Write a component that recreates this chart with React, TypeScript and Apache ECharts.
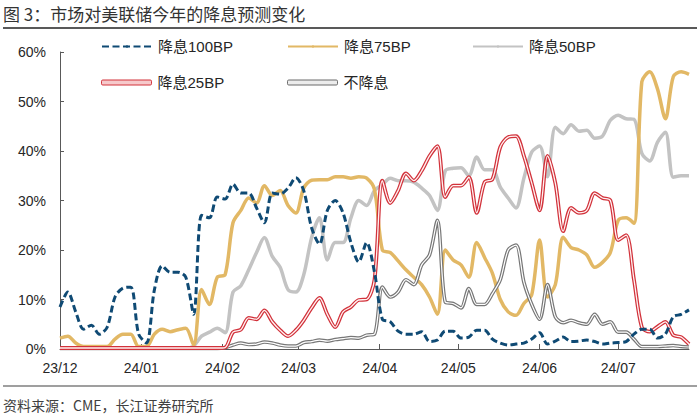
import React, { useEffect, useRef } from "react";
import * as echarts from "echarts";

// x grid: one sample every 3 days starting 2023-12-01
const START_Y = 2023;
const START_M = 11; // December (0-based)
const STEP_DAYS = 3;
const POINT_COUNT = 81;
const dates: number[] = Array.from({ length: POINT_COUNT }, (_, i) =>
  new Date(START_Y, START_M, 1 + i * STEP_DAYS).getTime()
);

const seriesNames = ["降息100BP", "降息75BP", "降息50BP", "降息25BP", "不降息"];

const cut100 = [
  8.5, 11.5, 7.5, 4.0, 4.8, 3.0, 4.4, 10.5, 12.3, 12.5,
  3.0, 1.2, 11.9, 16.8, 15.5, 15.5, 14.5, 7.0, 27.0, 26.5,
  30.7, 30.3, 33.3, 31.5, 31.5, 28.5, 25.5, 31.5, 31.3, 32.5,
  34.6, 32.0, 24.5, 21.2, 28.0, 30.0, 27.5, 21.5, 17.6, 21.5,
  15.5, 6.0, 5.5, 3.6, 3.0, 3.0, 3.5, 1.5, 1.8, 3.6,
  3.6, 2.2, 2.4, 3.8, 3.8, 2.0, 1.2, 0.8, 1.0, 1.2,
  2.0, 3.3, 1.0, 1.6, 2.4, 1.5, 1.6, 1.8, 1.5, 1.0,
  1.2, 1.3, 1.5, 3.0, 4.0, 4.0, 2.2, 3.0, 6.5, 7.0,
  7.9,
];

const cut75 = [
  2.2, 2.6, 1.2, 0.5, 0.5, 0.5, 0.5, 2.0, 3.0, 3.0,
  0.5, 0.5, 3.0, 4.0, 3.5, 3.9, 4.2, 0.8, 12.0, 9.0,
  14.5, 15.0, 25.5, 28.0, 30.5, 29.5, 33.0, 31.0, 32.0, 29.0,
  27.5, 32.5, 34.1, 34.2, 34.2, 34.8, 34.8, 34.5, 34.8, 34.5,
  32.2, 20.0, 19.5, 17.8, 16.0, 14.5, 13.0, 10.5, 7.0, 20.0,
  18.0, 17.0, 14.5, 21.5, 18.5, 15.3, 10.0, 7.5, 6.8, 9.2,
  11.0, 22.0, 10.5, 13.0, 22.6, 20.5, 20.0, 19.0, 16.5, 17.5,
  19.5, 26.0, 26.5, 25.4, 54.0, 56.0, 52.5, 46.5, 55.0, 56.0,
  55.5,
];

const cut50 = [
  0.2, 0.2, 0.2, 0.2, 0.2, 0.2, 0.2, 0.2, 0.2, 0.2,
  0.2, 0.2, 0.2, 0.2, 0.2, 0.2, 0.2, 0.6, 2.6, 3.4,
  4.2, 3.3, 11.5, 12.8, 16.0, 19.5, 22.5, 18.7, 16.5, 12.0,
  11.5, 15.0, 22.5, 26.5, 18.0, 21.5, 21.5, 26.5, 30.0, 29.0,
  32.0, 33.2, 34.5, 34.0, 34.0, 33.7, 32.5, 31.0, 28.0, 36.0,
  36.5, 36.6, 35.0, 38.8, 36.2, 36.2, 32.7, 30.5, 28.5, 34.5,
  39.8, 41.0, 34.8, 44.8, 43.5, 45.3, 44.0, 44.2, 42.6, 43.0,
  46.2, 47.2, 46.5, 46.4, 39.5, 38.0, 41.8, 43.8, 34.7, 35.0,
  35.0,
];

const cut25 = [
  0.2, 0.2, 0.2, 0.2, 0.2, 0.2, 0.2, 0.2, 0.2, 0.2,
  0.2, 0.2, 0.2, 0.2, 0.2, 0.2, 0.2, 0.2, 0.2, 0.2,
  0.2, 0.3, 3.4, 3.9, 6.3, 6.0, 7.8, 5.5, 3.8, 2.6,
  3.8, 5.8, 8.3, 10.3, 7.0, 4.4, 7.5, 8.5, 9.9, 10.0,
  14.0, 34.0, 29.5, 32.0, 35.5, 34.0, 36.0, 39.0, 41.0, 30.7,
  33.0, 33.0, 34.7, 27.5, 33.7, 34.3, 40.8, 42.8, 43.0, 39.0,
  33.5, 28.0, 39.0, 33.5, 23.8, 28.5, 27.5, 28.0, 31.5, 30.5,
  30.0, 22.0, 23.0, 14.0, 4.4, 3.5, 4.5, 5.5, 2.8, 2.4,
  1.0,
];

const noCut = [
  0.1, 0.1, 0.1, 0.1, 0.1, 0.1, 0.1, 0.1, 0.1, 0.1,
  0.1, 0.1, 0.1, 0.1, 0.1, 0.1, 0.1, 0.1, 0.1, 0.1,
  0.1, 0.3, 0.8, 1.2, 0.9, 1.0, 1.4, 1.2, 0.8, 0.6,
  0.6, 1.3, 1.5, 1.8, 1.6, 1.9, 2.1, 2.3, 2.2, 2.8,
  3.0, 12.5, 10.5, 11.5, 14.0, 13.0, 17.0, 19.0, 26.0, 9.5,
  9.2, 8.3, 12.2, 9.0, 9.0, 11.2, 14.0, 20.0, 21.0, 13.5,
  9.0, 6.0, 13.0, 6.5, 5.3, 5.8, 5.3, 5.0, 7.0, 5.0,
  5.5, 3.4, 3.4, 2.0, 0.5, 0.5, 0.5, 0.6, 0.7, 0.5,
  0.4,
];

const yTicks = [0, 10, 20, 30, 40, 50, 60];

const TITLE = "图 3：市场对美联储今年的降息预测变化";
const SOURCE = "资料来源：CME，长江证券研究所";

const C_NAVY = "#0f4a74";
const C_GOLD = "#e2b865";
const C_LGRAY = "#c3c3c3";
const C_RED = "#d2323b";
const C_DGRAY = "#777777";

const NUM_FONT = "'Liberation Sans', Arial, 'Noto Sans CJK SC', sans-serif";
const CJK_FONT = "'Noto Sans CJK SC', 'Liberation Sans', sans-serif";

const toData = (arr: number[]) => dates.map((d, i) => [d, arr[i]]);

export default function App() {
  const ref = useRef<HTMLDivElement>(null);

  useEffect(() => {
    if (!ref.current) return;
    const chart = echarts.init(ref.current, undefined, { renderer: "svg" });
    const DAY = 86400000;

    const legendPos = [
      { left: 101, top: 39 },
      { left: 287, top: 39 },
      { left: 472, top: 39 },
      { left: 101, top: 75 },
      { left: 287, top: 75 },
    ];
    const legendIcons: any[] = [
      { name: seriesNames[0] },
      { name: seriesNames[1] },
      { name: seriesNames[2] },
      {
        name: seriesNames[3],
        icon: "roundRect",
        itemStyle: { color: "#f6c9cb", borderColor: C_RED, borderWidth: 1 },
      },
      {
        name: seriesNames[4],
        icon: "roundRect",
        itemStyle: { color: "#ececec", borderColor: "#6a6a6a", borderWidth: 1 },
      },
    ];

    const legends = legendPos.map((p, i) => ({
      left: p.left,
      top: p.top,
      orient: "horizontal",
      padding: 0,
      itemWidth: 50,
      itemHeight: legendIcons[i].icon ? 5 : 3,
      data: [legendIcons[i]],
      textStyle: {
        fontFamily: NUM_FONT,
        fontSize: 15,
        color: "#262626",
        padding: [0, 0, 0, 1],
      },
      selectedMode: false,
    }));

    const common = {
      type: "line",
      showSymbol: false,
      symbol: "none",
      smooth: 0.3,
      animation: false,
    };

    chart.setOption({
      animation: false,
      backgroundColor: "#ffffff",
      grid: { left: 60, right: 11, top: 52, bottom: 69, containLabel: false },
      legend: legends,
      xAxis: {
        type: "time",
        min: dates[0],
        max: dates[dates.length - 1],
        splitNumber: 8,
        minInterval: 27 * DAY,
        maxInterval: 32 * DAY,
        axisLine: { show: true, lineStyle: { color: "#595959", width: 1 } },
        axisTick: { show: true, inside: true, length: 5, lineStyle: { color: "#595959" } },
        splitLine: { show: false },
        axisLabel: {
          showMaxLabel: false,
          margin: 12,
          fontFamily: NUM_FONT,
          fontSize: 14,
          color: "#262626",
          formatter: (val: number) => {
            const d = new Date(val);
            if (d.getDate() !== 1) return "";
            const yy = String(d.getFullYear()).slice(2);
            const mm = String(d.getMonth() + 1).padStart(2, "0");
            return `${yy}/${mm}`;
          },
        },
      },
      yAxis: {
        type: "value",
        min: yTicks[0],
        max: yTicks[yTicks.length - 1],
        interval: yTicks[1] - yTicks[0],
        axisLine: { show: true, lineStyle: { color: "#595959", width: 1 } },
        axisTick: { show: true, inside: true, length: 4, lineStyle: { color: "#595959" } },
        splitLine: { show: false },
        axisLabel: {
          margin: 14,
          fontFamily: NUM_FONT,
          fontSize: 14,
          color: "#262626",
          formatter: "{value}%",
        },
      },
      series: [
        {
          ...common,
          name: seriesNames[2],
          data: toData(cut50),
          color: C_LGRAY,
          lineStyle: { color: C_LGRAY, width: 3.5 },
          z: 2,
        },
        {
          ...common,
          name: seriesNames[1],
          data: toData(cut75),
          color: C_GOLD,
          lineStyle: { color: C_GOLD, width: 3.5 },
          z: 3,
        },
        {
          ...common,
          name: seriesNames[4],
          data: toData(noCut),
          color: C_DGRAY,
          lineStyle: { color: C_DGRAY, width: 3.6 },
          z: 4,
        },
        {
          ...common,
          name: "不降息-inner",
          data: toData(noCut),
          color: "#ffffff",
          lineStyle: { color: "#ffffff", width: 1.2 },
          silent: true,
          z: 5,
        },
        {
          ...common,
          name: seriesNames[3],
          data: toData(cut25),
          color: C_RED,
          lineStyle: { color: C_RED, width: 3.8 },
          z: 6,
        },
        {
          ...common,
          name: "降息25BP-inner",
          data: toData(cut25),
          color: "#fff2f2",
          lineStyle: { color: "#fff2f2", width: 1.3 },
          silent: true,
          z: 7,
        },
        {
          ...common,
          name: seriesNames[0],
          data: toData(cut100),
          color: C_NAVY,
          lineStyle: { color: C_NAVY, width: 3, type: [7, 3.5] },
          z: 8,
        },
      ],
      graphic: [
        {
          type: "text",
          left: 3,
          top: 5,
          style: {
            text: TITLE,
            fontFamily: CJK_FONT,
            fontSize: 17,
            fill: "#333333",
          },
        },
        {
          type: "line",
          shape: { x1: 3, y1: 28, x2: 697, y2: 28 },
          style: { stroke: "#595959", lineWidth: 2 },
        },
        {
          type: "line",
          shape: { x1: 3, y1: 386, x2: 697, y2: 386 },
          style: { stroke: "#404040", lineWidth: 1.2 },
        },
        {
          type: "text",
          left: 3,
          top: 398,
          style: {
            text: SOURCE,
            fontFamily: CJK_FONT,
            fontSize: 14,
            fill: "#404040",
          },
        },
      ],
    });

    return () => chart.dispose();
  }, []);

  return (
    <div
      ref={ref}
      style={{ position: "fixed", left: 0, top: 0, width: 700, height: 418, background: "#fff" }}
    />
  );
}
